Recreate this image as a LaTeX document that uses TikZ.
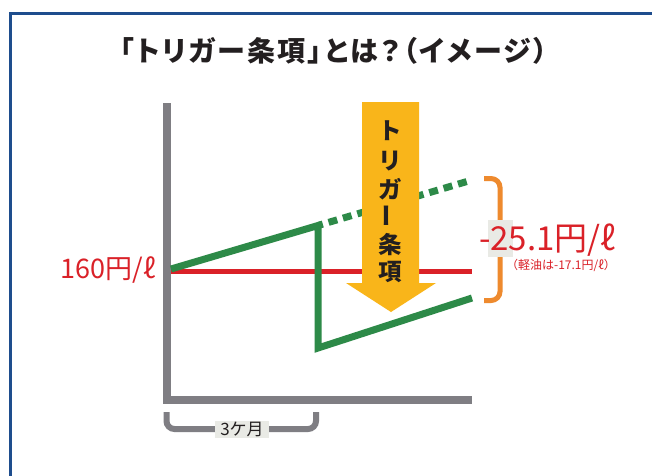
\documentclass[tikz,border=0pt]{standalone}
\usepackage{fontspec}
\newfontfamily\jp{Noto Sans CJK JP}
\newfontfamily\jpp[RawFeature=+palt, LetterSpace=9]{Noto Sans CJK JP}
\usepackage{graphicx}
\definecolor{frameblue}{HTML}{1E4D8D}
\definecolor{axisgray}{HTML}{7F7E83}
\definecolor{pricered}{HTML}{DA2128}
\definecolor{trendgreen}{HTML}{2D8A48}
\definecolor{arrowyellow}{HTML}{F9B51A}
\definecolor{braceorange}{HTML}{EE8A2E}
\definecolor{labelbg}{HTML}{E9EAE5}
\definecolor{inkblack}{HTML}{231F20}
\tikzset{
  axisline/.style={draw=axisgray, line width=8pt, line join=miter},
  redline/.style={draw=pricered, line width=5pt},
  greenline/.style={draw=trendgreen, line width=7pt, line join=miter},
  greendash/.style={draw=trendgreen, line width=7pt, dash pattern=on 9pt off 6pt, dash phase=4pt},
  arrowchar/.style={font=\jp\bfseries\fontsize{23.5}{23.5}\selectfont, text=inkblack, inner sep=0pt},
  bracegray/.style={draw=axisgray, line width=6pt, rounded corners=8pt},
  braceorng/.style={draw=braceorange, line width=5pt, rounded corners=9pt},
}
\begin{document}
\begin{tikzpicture}[x=1pt, y=-1pt]
\useasboundingbox (0,0) rectangle (652,475);
\fill[white] (0,0) rectangle (652,475);
% frame
\draw[frameblue, line width=3pt, line join=miter] (10.5,477) -- (10.5,13.5) -- (654,13.5);
% title
\node[font=\jpp\bfseries\fontsize{28}{29}\selectfont, text=inkblack, inner sep=0pt] (title) at (333.5,51) {「トリガー条項」とは？（イメージ）};
% axes
\coordinate (axtop) at (167,103);
\coordinate (axcorner) at (167,399.5);
\coordinate (axright) at (472,399.5);
\draw[axisline] (axtop) -- (axcorner) -- (axright);
% red line
\coordinate (redL) at (171,271);
\coordinate (redR) at (472,271);
\draw[redline] (redL) -- (redR);
% green lines
\coordinate (g0) at (171,269);
\coordinate (g1) at (318,225.5);
\coordinate (g2) at (318,348);
\coordinate (g3) at (472,298);
\coordinate (gd) at (472,180);
\draw[greendash] (g1) -- (gd);
\draw[greenline] (g0) -- (g1) -- (g2) -- (g3);
% yellow arrow
\fill[arrowyellow] (362,102) -- (419,102) -- (419,283) -- (436,283) -- (391,312) -- (346,283) -- (362,283) -- cycle;
\node[arrowchar] (c1) at (390,131) {ト};
\node[arrowchar] (c2) at (390,161) {リ};
\node[arrowchar] (c3) at (390,189) {ガ};
\node[arrowchar] (c4) at (390,216) {\rotatebox{90}{ー}};
\node[arrowchar] (c5) at (390,245) {条};
\node[arrowchar] (c6) at (390,272) {項};
% orange brace
\coordinate (oTop) at (484,178.5);
\coordinate (oBot) at (484,300.5);
\draw[braceorng] (oTop) -- (500,178.5) -- (500,300.5) -- (oBot);
% label
\fill[labelbg] (488,220) rectangle (513,257);
\node[anchor=base west, font=\jp\fontsize{33}{33}\selectfont, text=pricered, inner sep=0pt] (drop) at (479,250) {-25.1円/ℓ};
\node[font=\jp\fontsize{12}{12}\selectfont, text=pricered, inner sep=0pt] (diesel) at (561,265) {（軽油は-17.1円/ℓ）};
\node[anchor=east, font=\jp\fontsize{27}{27}\selectfont, text=pricered, inner sep=0pt] (start) at (156,270) {160円/ℓ};
% bottom bracket
\draw[bracegray] (166.5,412) -- (166.5,429) -- (316,429) -- (316,412);
\node[fill=labelbg, font=\jp\fontsize{17}{17}\selectfont, text=inkblack, inner xsep=5pt, inner ysep=1.5pt] (months) at (242,429.5) {3ケ月};
\end{tikzpicture}
\end{document}
